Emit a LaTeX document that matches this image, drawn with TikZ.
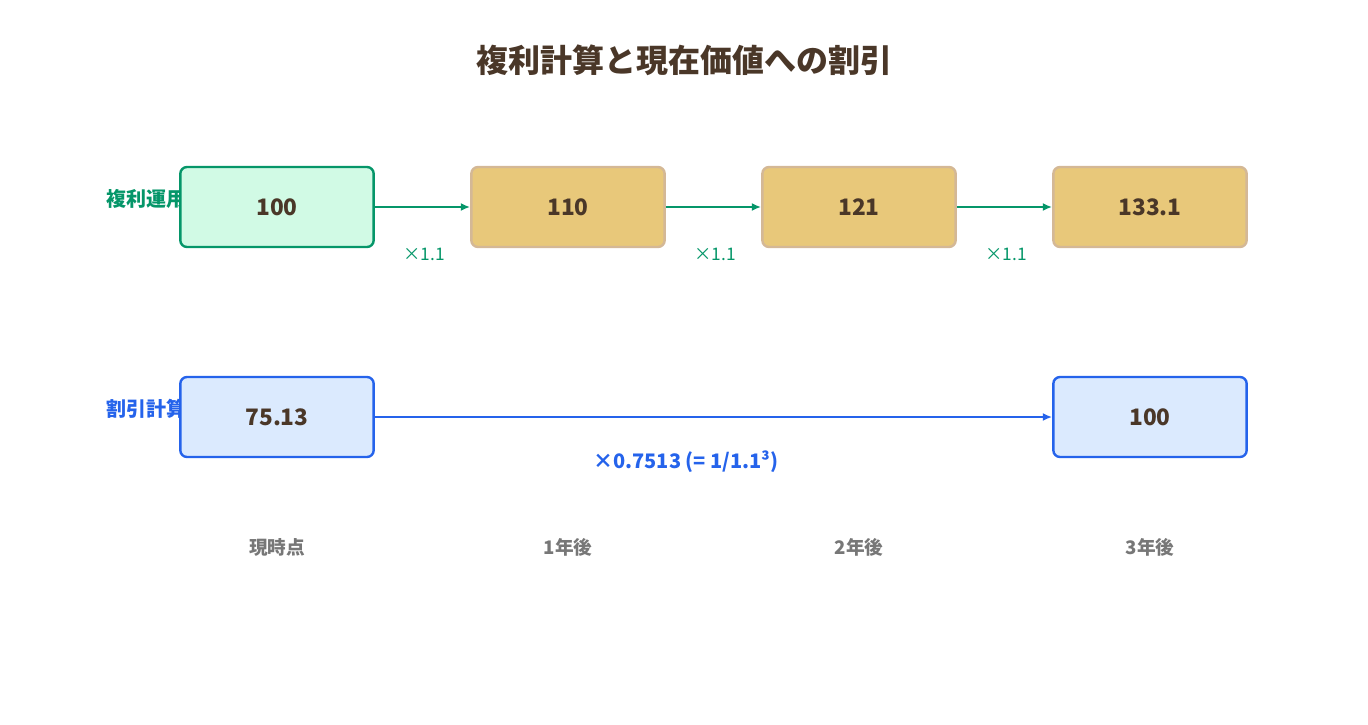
\documentclass[tikz,border=0pt]{standalone}
\usepackage{fontspec}
\setmainfont{Noto Sans CJK JP}
\usetikzlibrary{positioning,arrows.meta}
\definecolor{ink}{HTML}{4A3728}
\definecolor{grn}{HTML}{059669}
\definecolor{grnfill}{HTML}{D1FAE5}
\definecolor{gold}{HTML}{E8C87A}
\definecolor{goldline}{HTML}{D4B896}
\definecolor{blu}{HTML}{2563EB}
\definecolor{blufill}{HTML}{DBEAFE}
\definecolor{gry}{HTML}{777777}
\tikzset{
  box/.style={rounded corners=5pt, line width=1.8pt, minimum width=145pt, minimum height=60pt,
    text=ink, font=\fontsize{17}{20}\selectfont\bfseries},
  arr/.style={line width=2.2pt, -{Latex[length=7pt,width=6pt]}},
  rate/.style={grn, font=\fontsize{13}{15}\selectfont},
  yearlbl/.style={gry, font=\fontsize{14}{16}\selectfont\bfseries}
}
\begin{document}
\begin{tikzpicture}[x=0.75pt,y=-0.75pt]
 \useasboundingbox (0,0) rectangle (1368,725);
 \node[ink, font=\fontsize{24}{28}\selectfont\bfseries] (title) at (684,60) {複利計算と現在価値への割引};

 % row labels (partly hidden by the boxes)
 \node[grn, anchor=west, font=\fontsize{15}{18}\selectfont\bfseries] (lgrow) at (102,199) {複利運用};
 \node[blu, anchor=west, font=\fontsize{15}{18}\selectfont\bfseries] (ldisc) at (102,409) {割引計算};

 % compounding
 \node[box, draw=grn, fill=grnfill] (g0) at (277,207) {100};
 \node[box, draw=goldline, fill=gold] (g1) at (568,207) {110};
 \node[box, draw=goldline, fill=gold] (g2) at (859,207) {121};
 \node[box, draw=goldline, fill=gold] (g3) at (1150,207) {133.1};
 \draw[arr, grn] (g0) -- (g1);
 \draw[arr, grn] (g1) -- (g2);
 \draw[arr, grn] (g2) -- (g3);
 \node[rate] (r1) at (424,254) {×1.1};
 \node[rate] (r2) at (715,254) {×1.1};
 \node[rate] (r3) at (1006,254) {×1.1};

 % discounting
 \node[box, draw=blu, fill=blufill] (d0) at (277,417) {75.13};
 \node[box, draw=blu, fill=blufill] (d3) at (1150,417) {100};
 \draw[arr, blu] (d0) -- (d3);
 \node[blu, font=\fontsize{15}{18}\selectfont\bfseries] (dr) at (686,462) {×0.7513 (= 1/1.1³)};

 % time axis
 \node[yearlbl] (t0) at (277,547) {現時点};
 \node[yearlbl] (t1) at (568,547) {1年後};
 \node[yearlbl] (t2) at (859,547) {2年後};
 \node[yearlbl] (t3) at (1150,547) {3年後};
\end{tikzpicture}
\end{document}
